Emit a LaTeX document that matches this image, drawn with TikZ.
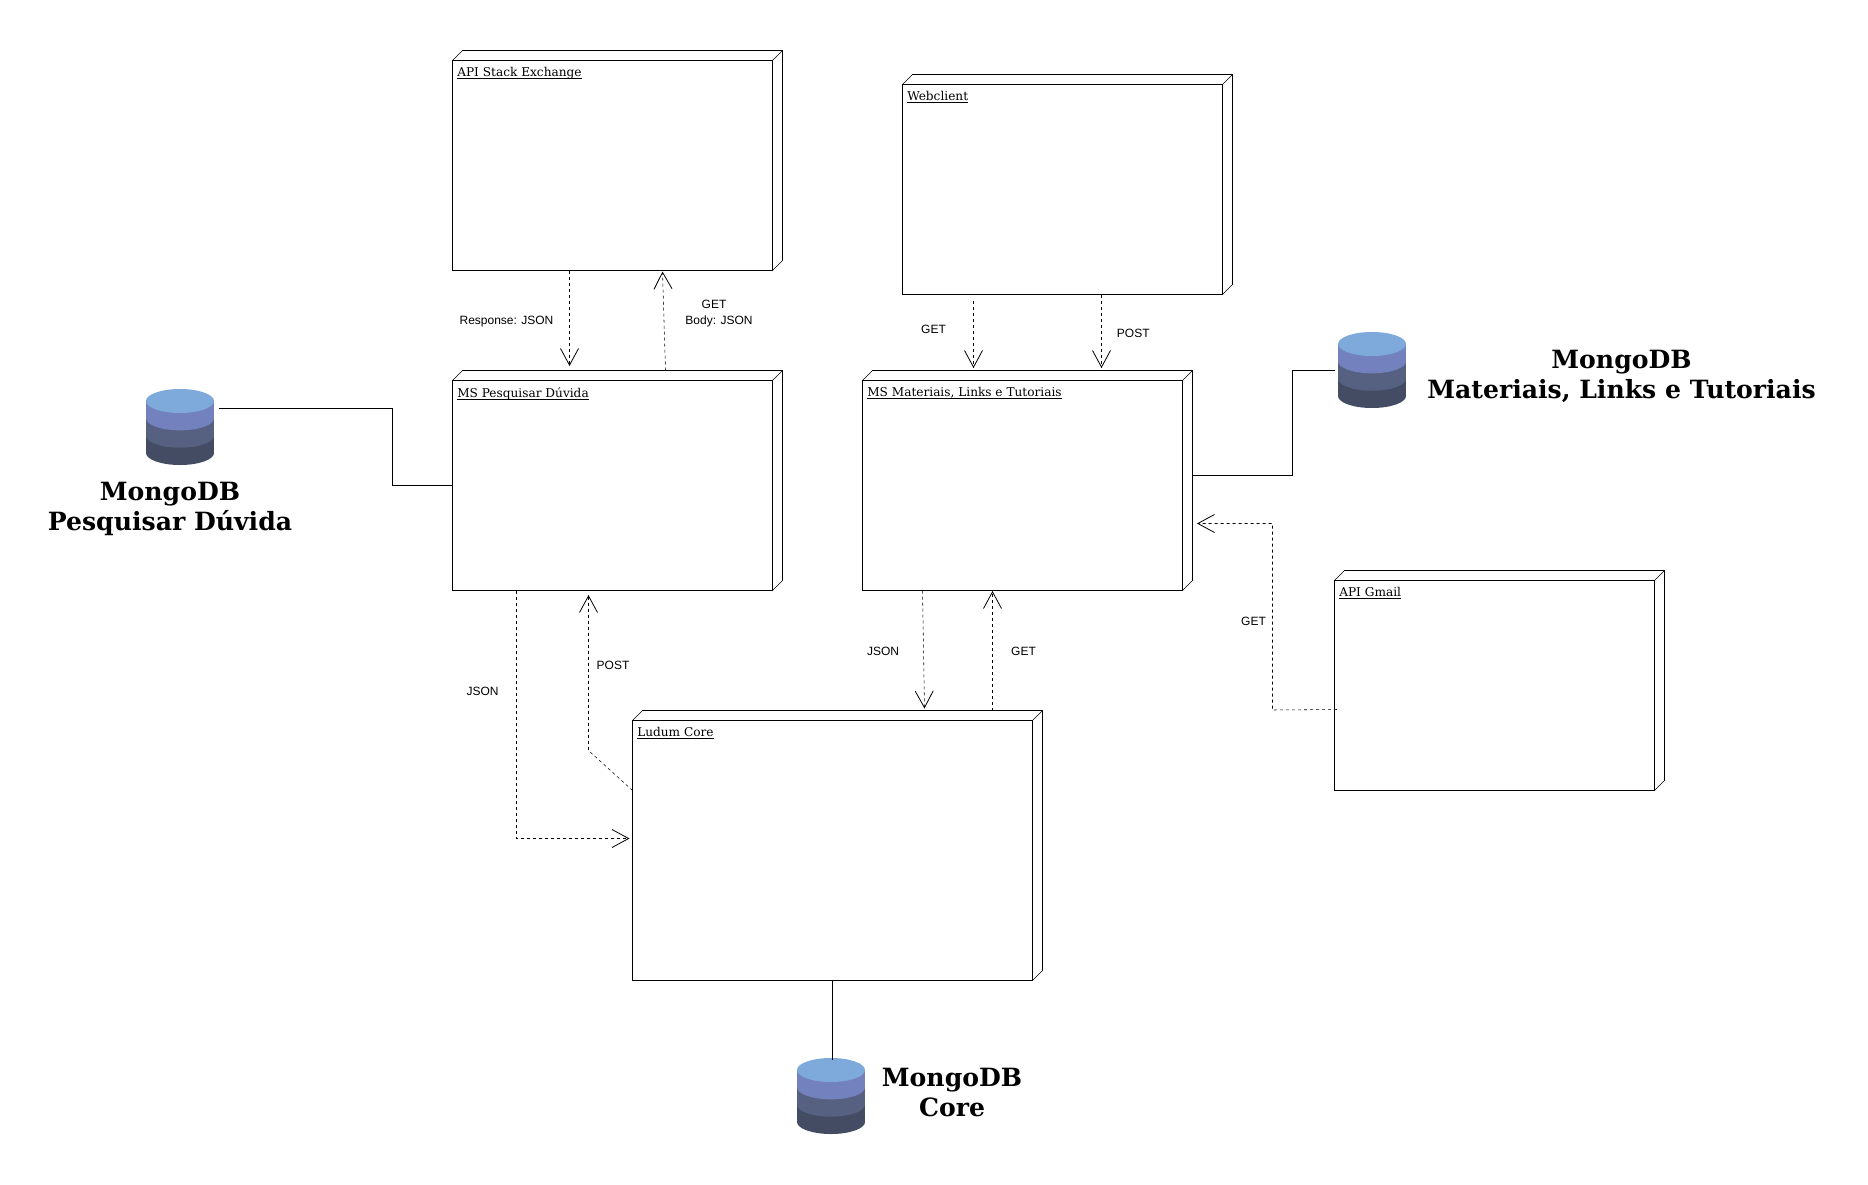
\documentclass[tikz,border=0pt]{standalone}
\usepackage{fontspec}
\setmainfont{DejaVu Serif}
\newfontfamily\edfont{Liberation Sans}
\usetikzlibrary{calc}
\usetikzlibrary{arrows.meta}
\definecolor{mongoA}{HTML}{7EA9DB}
\definecolor{mongoB}{HTML}{7382BE}
\definecolor{mongoC}{HTML}{566181}
\definecolor{mongoD}{HTML}{434C63}
\newcommand{\ulabel}[1]{\setbox0\hbox{#1}\rlap{\rule[-1.4pt]{\wd0}{0.6pt}}\box0}
\tikzset{x=0.75pt,y=-0.75pt,line width=0.75pt}
\tikzset{>={Straight Barb[length=12.5pt,width=13.5pt,line width=0.6pt]}}
\tikzset{dep/.style={dash pattern=on 2.25pt off 2.25pt}}
\tikzset{ed/.style={inner sep=0pt,align=center,font=\edfont\fontsize{9}{11.6}\selectfont}}
\tikzset{dbtitle/.style={inner sep=0pt,align=center,font=\bfseries\fontsize{18.85}{22.4}\selectfont}}
\tikzset{boxtitle/.style={anchor=north west,inner sep=0pt,font=\fontsize{9.1}{11}\selectfont}}
\tikzset{box/.style={draw,anchor=north west,outer sep=0pt,inner sep=0pt,minimum width=240pt,minimum height=157.5pt}}
\tikzset{mongo/.style={inner sep=0pt,outer sep=0pt,minimum width=51pt,minimum height=57pt,path picture={
 \foreach \c/\h in {mongoD/39,mongoC/26,mongoB/13} {
  \fill[\c] ([shift={(-25.5pt,-9pt-\h pt+13pt)}]path picture bounding box.north) rectangle ++(51pt,-13pt);
  \fill[\c] ([yshift=-9pt-\h pt]path picture bounding box.north) ellipse (25.5pt and 9pt);
 }
 \fill[mongoA] ([yshift=-9pt]path picture bounding box.north) ellipse (25.5pt and 9pt);
}}}

\begin{document}
\begin{tikzpicture}
\useasboundingbox (0,0) rectangle (1868,1185);

%%% The boxes

\node[box] (api) at (452.5,60.5) {};
\node[box] (pesq) at (452.5,380.5) {};
\node[box] (web) at (902.5,84.5) {};
\node[box] (mat) at (862.5,380.5) {};
\node[box] (gmail) at (1334.5,580.5) {};
\node[box,minimum width=300pt,minimum height=195pt] (core) at (632.5,720.5) {};

\foreach \n in {api,pesq,web,mat,gmail,core} {
 \draw (\n.north west) -- ++(10,-10) -- ($(\n.north east)+(10,-10)$)
  -- ($(\n.south east)+(10,-10)$) -- (\n.south east);
 \draw (\n.north east) -- ++(10,-10);
}

\node[boxtitle] (apit) at ($(api.north west)+(4.5,7)$) {\ulabel{API Stack Exchange}};
\node[boxtitle] (pesqt) at ($(pesq.north west)+(4.5,7)$) {\ulabel{MS Pesquisar Dúvida}};
\node[boxtitle] (webt) at ($(web.north west)+(4.5,7)$) {\ulabel{Webclient}};
\node[boxtitle] (matt) at ($(mat.north west)+(4.5,7)$) {\ulabel{MS Materiais, Links e Tutoriais}};
\node[boxtitle] (gmailt) at ($(gmail.north west)+(4.5,7)$) {\ulabel{API Gmail}};
\node[boxtitle] (coret) at ($(core.north west)+(4.5,7)$) {\ulabel{Ludum Core}};

%%% The databases

\node[mongo] (dbpesq) at (180,427) {};
\node[mongo] (dbmat) at (1372,370) {};
\node[mongo] (dbcore) at (831,1096) {};

\node[dbtitle] (tpesq) at (170,509) {MongoDB\\Pesquisar Dúvida};
\node[dbtitle] (tmat) at (1621.5,376) {MongoDB\\Materiais, Links e Tutoriais};
\node[dbtitle] (tcore) at (952,1092.3) {MongoDB\\Core};

\draw ($(dbpesq.north east)+(4.5,19.5)$) -- ++(174,0) |- (pesq.west);
\draw ($(mat.east)+(10,-10)$) -- ++(100,0) |- ($(dbmat.west)+(-3,0.5)$);
\draw (core.south) -- ($(dbcore.north)+(1.5,2)$);

%%% The calls

\draw[dep,->] ($(api.south west)+(117,0)$) -- ($(pesq.north west)+(117,-14.5)$);
\draw[dep,->] ($(pesq.north west)+(213,-10)$) -- ($(api.south west)+(210,1)$);
\draw[dep,->] ($(web.south west)+(71,6)$) -- ($(mat.north west)+(111,-12.5)$);
\draw[dep,->] ($(web.south west)+(199,0)$) -- ($(mat.north west)+(239,-12.5)$);
\draw[dep,->] ($(mat.south west)+(60,0)$) -- ($(core.north west)+(292,-12)$);
\draw[dep,->] ($(core.north west)+(360,-10)$) -- ($(mat.south west)+(130,0.5)$);
\draw[dep,->] ($(pesq.south west)+(64,0)$) |- ($(core.north west)+(-3,118)$);
\draw[dep,->] ($(core.north west)+(0,70)$) -- ($(pesq.south west)+(136,160)$) -- ($(pesq.south west)+(136,4.5)$);
\draw[dep,->] ($(gmail.north west)+(2.5,129)$) -- ($(gmail.north west)+(-62,129.5)$) |- ($(mat.south east)+(14.5,-67)$);

\node[ed] (l1) at (506.5,322) {Response: JSON};
\node[ed] (l2) at (719,313.5) {GET~~~\mbox{}\\Body: JSON};
\node[ed] (l3) at (933.5,329) {GET};
\node[ed] (l4) at (1133.3,333) {POST};
\node[ed] (l5) at (883,651) {JSON};
\node[ed] (l6) at (1023.5,651) {GET};
\node[ed] (l7) at (482.6,691.5) {JSON};
\node[ed] (l8) at (613,665.5) {POST};
\node[ed] (l9) at (1253.5,621) {GET};

\end{tikzpicture}
\end{document}
